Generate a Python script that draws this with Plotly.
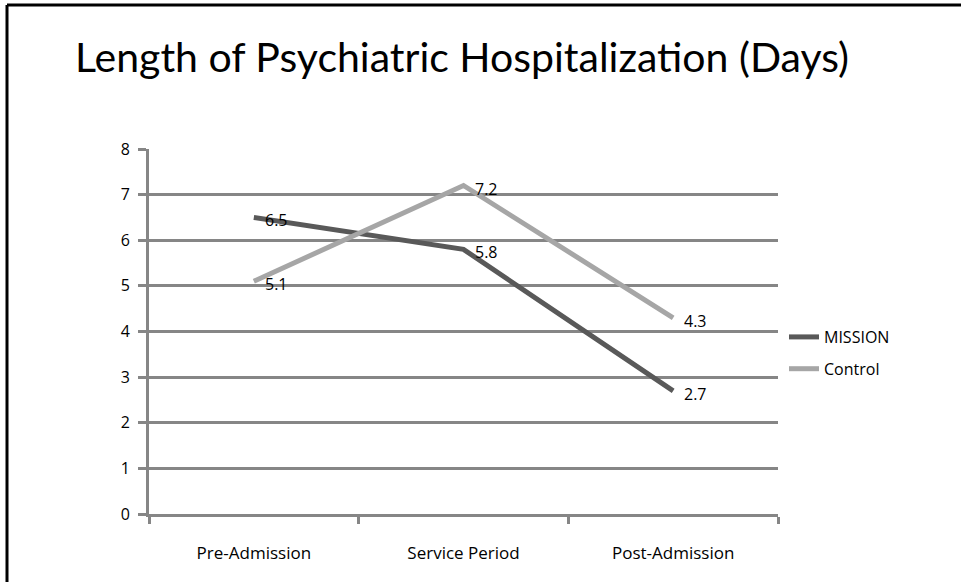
import plotly.graph_objects as go

categories = ["Pre-Admission", "Service Period", "Post-Admission"]
mission = [6.5, 5.8, 2.7]
control = [5.1, 7.2, 4.3]
y_ticks = [0, 1, 2, 3, 4, 5, 6, 7, 8]

W, H = 961, 582
L, R, T, B = 149, 778, 149, 514


def px(x):
    return (x - L) / (R - L)


def py(y):
    return (B - y) / (B - T)


grid = "#868686"
label_font = dict(family="Open Sans", size=16, color="#000000")

fig = go.Figure()
fig.add_trace(go.Scatter(
    x=categories, y=mission, name="MISSION", mode="lines",
    line=dict(color="#595959", width=5),
    legendgroup="m", cliponaxis=False,
))
fig.add_trace(go.Scatter(
    x=categories, y=control, name="Control", mode="lines",
    line=dict(color="#a6a6a6", width=5),
    legendgroup="c", cliponaxis=False,
))

annotations = []
for series in (mission, control):
    for cat, v in zip(categories, series):
        annotations.append(dict(
            x=cat, y=v, xref="x", yref="y", text=f"{v:.1f}",
            showarrow=False, xanchor="left", yanchor="middle",
            xshift=9, yshift=-3, font=label_font,
        ))

fig.update_layout(
    width=W, height=H,
    margin=dict(l=L, r=W - R, t=T, b=H - B, pad=0),
    paper_bgcolor="white", plot_bgcolor="white",
    font=dict(family="Open Sans", size=16, color="#000000"),
    title=dict(text="Length of Psychiatric Hospitalization (Days)",
               x=462 / W, xanchor="center", y=1 - 58 / H, yanchor="middle",
               font=dict(family="Lato", size=41, color="#000000")),
    xaxis=dict(type="category", range=[-0.5, 2.5], showgrid=False,
               showline=True, linecolor=grid, linewidth=3,
               ticks="outside", tickson="boundaries", ticklen=7,
               tickwidth=3, tickcolor=grid, ticklabelstandoff=22,
               tickfont=dict(family="Open Sans", size=17), zeroline=False),
    yaxis=dict(range=[0, 8], tickvals=y_ticks, showgrid=True,
               gridcolor=grid, gridwidth=3, showline=True, linecolor=grid,
               linewidth=3, ticks="outside", ticklen=8, tickwidth=3,
               tickcolor=grid, ticklabelstandoff=5, zeroline=False,
               tickfont=dict(family="Open Sans", size=16)),
    legend=dict(x=px(784), xanchor="left", y=py(320), yanchor="top",
                itemwidth=30, tracegroupgap=8, bgcolor="rgba(0,0,0,0)",
                font=dict(family="Open Sans", size=16)),
    annotations=annotations,
    shapes=[
        dict(type="line", xref="paper", yref="paper", x0=px(7), x1=px(7),
             y0=py(5), y1=py(600), line=dict(color="#000000", width=3)),
        dict(type="line", xref="paper", yref="paper", x0=px(7), x1=px(980),
             y0=py(5), y1=py(5), line=dict(color="#000000", width=3)),
    ],
)

fig.write_html(
    "out.html",
    config={"displayModeBar": False},
    post_script="document.body.style.margin='0px';document.body.style.overflow='hidden';",
)
